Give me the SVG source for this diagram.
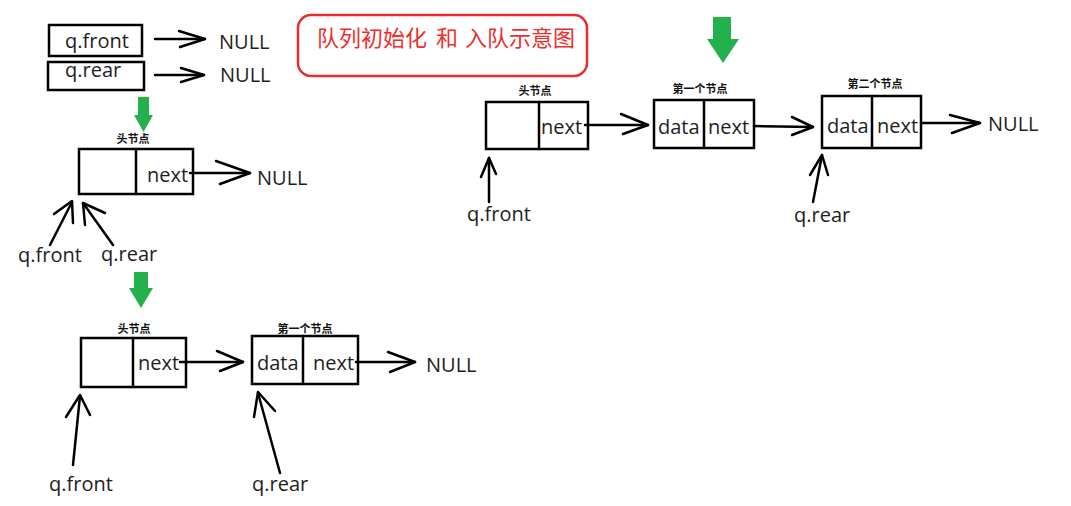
<svg xmlns="http://www.w3.org/2000/svg" width="1071" height="506" viewBox="0 0 1071 506">
<style>
.box{fill:none;stroke:#000;stroke-width:2.5}
.ln{fill:none;stroke:#000;stroke-width:2.5;stroke-linecap:round;stroke-linejoin:round}
.t{font-family:"Open Sans","Noto Sans",sans-serif;font-size:20px;fill:#1e1e1e}
.lab{font-family:"Noto Sans CJK SC",sans-serif;font-size:11px;font-weight:bold;fill:#111;text-anchor:middle}
.g{fill:#22b14c}
.title{font-family:"Noto Sans CJK SC",sans-serif;font-size:22px;fill:#ee2d2d}
</style>
<rect width="1071" height="506" fill="#fff"/>

<g id="title">
<rect x="298" y="15" width="289" height="61" rx="13" fill="none" stroke="#ea2a2f" stroke-width="2.5"/>
<text class="title" y="46"><tspan x="317">队列初始化</tspan> <tspan x="436">和</tspan> <tspan x="465">入队示意图</tspan></text>
</g>

<g id="init-front">
<rect class="box" x="49" y="25" width="93" height="31"/>
<text class="t" x="65" y="48">q.front</text>
</g>
<g id="init-rear">
<rect class="box" x="48" y="62" width="96" height="28"/>
<text class="t" x="65" y="77">q.rear</text>
</g>
<g id="null-1"><text class="t" x="219" y="49">NULL</text></g>
<g id="null-2"><text class="t" x="220" y="82">NULL</text></g>

<g id="green-arrows">
<polygon class="g" points="138,97 149,97 149,115 153,115 143.5,132 134,115 138,115"/>
<polygon class="g" points="134,272 148,272 148,288 153,288 141,308 129,288 134,288"/>
<polygon class="g" points="713,17 731,17 731,39 739,39 723,63 707,39 713,39"/>
</g>

<!-- Stage 2 -->
<g id="head-a">
<text class="lab" x="133" y="143">头节点</text>
<rect class="box" x="79" y="149" width="114" height="45"/>
<line class="ln" x1="136" y1="149" x2="136" y2="194"/>
<text class="t" x="147" y="182">next</text>
</g>
<g id="null-a"><text class="t" x="257" y="185">NULL</text></g>
<g id="front-a"><text class="t" x="18" y="262">q.front</text></g>
<g id="rear-a"><text class="t" x="101" y="261">q.rear</text></g>

<!-- Stage 3 -->
<g id="head-b">
<text class="lab" x="134" y="333">头节点</text>
<rect class="box" x="81" y="338" width="105" height="49"/>
<line class="ln" x1="133" y1="338" x2="133" y2="387"/>
<text class="t" x="138" y="370">next</text>
</g>
<g id="node1-b">
<text class="lab" x="305" y="333">第一个节点</text>
<rect class="box" x="252" y="336" width="106" height="48"/>
<line class="ln" x1="303" y1="336" x2="303" y2="384"/>
<text class="t" x="257" y="370">data</text>
<text class="t" x="313" y="370">next</text>
</g>
<g id="null-b"><text class="t" x="426" y="372">NULL</text></g>
<g id="front-b"><text class="t" x="49" y="491">q.front</text></g>
<g id="rear-b"><text class="t" x="252" y="491">q.rear</text></g>

<!-- Stage 4 -->
<g id="head-c">
<text class="lab" x="535" y="95">头节点</text>
<rect class="box" x="486" y="102" width="102" height="47"/>
<line class="ln" x1="539" y1="102" x2="539" y2="149"/>
<text class="t" x="541" y="134">next</text>
</g>
<g id="node1-c">
<text class="lab" x="700" y="93">第一个节点</text>
<rect class="box" x="654" y="100" width="100" height="48"/>
<line class="ln" x1="704" y1="100" x2="704" y2="148"/>
<text class="t" x="658" y="134">data</text>
<text class="t" x="708" y="134">next</text>
</g>
<g id="node2-c">
<text class="lab" x="875" y="88">第二个节点</text>
<rect class="box" x="822" y="96" width="99" height="52"/>
<line class="ln" x1="872" y1="96" x2="872" y2="148"/>
<text class="t" x="827" y="133">data</text>
<text class="t" x="877" y="133">next</text>
</g>
<g id="null-c"><text class="t" x="988" y="131">NULL</text></g>
<g id="front-c"><text class="t" x="467" y="221">q.front</text></g>
<g id="rear-c"><text class="t" x="794" y="222">q.rear</text></g>

<g id="connectors">
<line class="ln" x1="155" y1="39" x2="205" y2="39"/>
<polyline class="ln" points="179,31 205,39 180,47"/>
<line class="ln" x1="155" y1="75" x2="204" y2="75"/>
<polyline class="ln" points="181,68 204,75 181,82"/>

<line class="ln" x1="190" y1="173" x2="250" y2="173"/>
<polyline class="ln" points="216,161 250,173 220,184"/>
<line class="ln" x1="50" y1="245" x2="72" y2="202"/>
<polyline class="ln" points="54,214 72,201 73,223"/>
<line class="ln" x1="113" y1="245" x2="83" y2="203"/>
<polyline class="ln" points="85,225 83,203 105,213"/>

<line class="ln" x1="180" y1="362" x2="243" y2="362"/>
<polyline class="ln" points="217,351 243,362 220,371"/>
<line class="ln" x1="356" y1="362" x2="415" y2="362"/>
<polyline class="ln" points="388,352 415,362 390,372"/>
<line class="ln" x1="73" y1="465" x2="80" y2="396"/>
<polyline class="ln" points="66,417 80,395 90,415"/>
<line class="ln" x1="280" y1="473" x2="258" y2="393"/>
<polyline class="ln" points="254,417 258,392 275,411"/>

<line class="ln" x1="585" y1="125" x2="648" y2="125"/>
<polyline class="ln" points="621,114 648,125 623,134"/>
<line class="ln" x1="754" y1="126" x2="813" y2="127"/>
<polyline class="ln" points="792,117 813,127 792,135"/>
<line class="ln" x1="921" y1="123" x2="980" y2="123"/>
<polyline class="ln" points="950,115 980,123 952,133"/>
<line class="ln" x1="489" y1="202" x2="489" y2="158"/>
<polyline class="ln" points="481,177 489,158 496,174"/>
<line class="ln" x1="813" y1="202" x2="822" y2="155"/>
<polyline class="ln" points="810,175 822,155 828,175"/>
</g>
</svg>
